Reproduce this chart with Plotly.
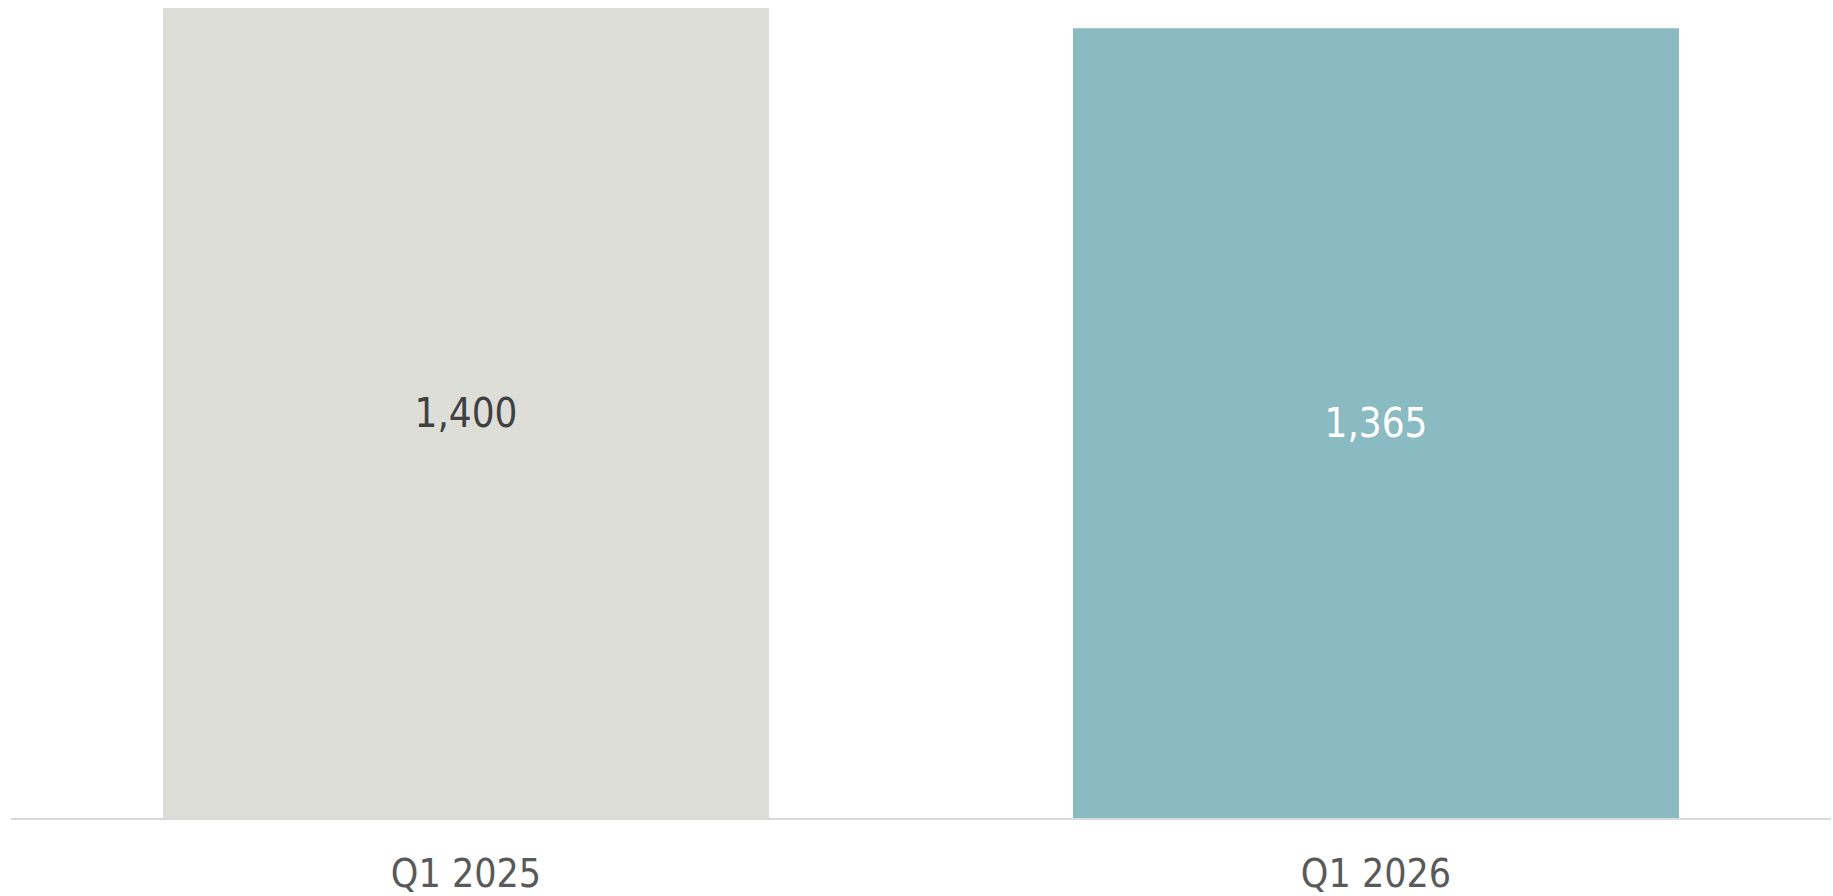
import plotly.graph_objects as go

categories = ["Q1 2025", "Q1 2026"]
values = [1400, 1365]
labels = ["1,400", "1,365"]
bar_colors = ["#DEDED9", "#8ABAC2"]
label_colors = ["#404040", "#FFFFFF"]

FONT = "DejaVu Sans Condensed, DejaVu Sans, sans-serif"

fig = go.Figure(
    go.Bar(
        x=categories,
        y=values,
        text=labels,
        textposition="inside",
        insidetextanchor="middle",
        textangle=0,
        textfont=dict(family=FONT, size=40, color=label_colors),
        marker=dict(color=bar_colors, line=dict(width=0)),
        hoverinfo="skip",
    )
)

fig.update_layout(
    width=1833,
    height=896,
    margin=dict(l=11, r=2, t=8, b=78, autoexpand=False),
    paper_bgcolor="white",
    plot_bgcolor="white",
    bargap=0.334,
    showlegend=False,
    uniformtext=dict(mode=False),
)
fig.update_xaxes(
    type="category",
    automargin=False,
    showline=True,
    linecolor="#D9D9D9",
    linewidth=2,
    showgrid=False,
    ticks="",
    ticklabelstandoff=20,
    tickfont=dict(family=FONT, size=39, color="#595959"),
    zeroline=False,
)
fig.update_yaxes(
    range=[0, 1400],
    visible=False,
    automargin=False,
    showgrid=False,
    zeroline=False,
)

fig.write_html("out.html", config={"displayModeBar": False})
